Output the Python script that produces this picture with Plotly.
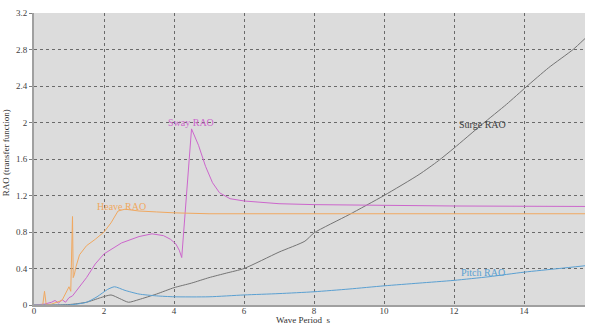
import plotly.graph_objects as go

# Wave period grid (s) and response amplitude operators for each motion
surge_period = [0, 0.5, 1.0, 1.5, 1.9, 2.2, 2.45, 2.7, 3.0, 3.5, 4.0, 4.5, 5.0, 5.5,
                6.0, 7.0, 7.74, 8.0, 9.0, 10.0, 11.0, 11.55, 12.0, 12.8, 13.5,
                14.06, 14.7, 15.4, 15.74]
surge_rao = [0, 0.0, 0.005, 0.03, 0.08, 0.11, 0.07, 0.03, 0.06, 0.12, 0.19, 0.24,
             0.30, 0.35, 0.40, 0.58, 0.70, 0.79, 0.99, 1.2, 1.43, 1.58, 1.72, 1.98,
             2.2, 2.39, 2.6, 2.8, 2.92]

sway_period = [0, 0.3, 0.5, 0.6, 0.7, 0.8, 0.9, 1.0, 1.1, 1.2, 1.3, 1.5, 1.75,
               2.0, 2.5, 3.0, 3.37, 3.7, 3.9, 4.05, 4.15, 4.22, 4.5, 4.7, 4.9,
               5.1, 5.3, 5.6, 6.0, 7.0, 8.0, 10.0, 12.0, 15.74]
sway_rao = [0, 0.01, 0.03, 0.05, 0.02, 0.06, 0.03, 0.08, 0.10, 0.15, 0.20, 0.30,
            0.45, 0.56, 0.68, 0.75, 0.78, 0.76, 0.72, 0.67, 0.60, 0.52, 1.93,
            1.75, 1.52, 1.34, 1.23, 1.165, 1.14, 1.11, 1.10, 1.09, 1.085, 1.08]

heave_period = [0, 0.25, 0.3, 0.35, 0.5, 0.8, 1.0, 1.05, 1.1, 1.12, 1.15, 1.2,
                1.3, 1.5, 1.75, 2.0, 2.2, 2.4, 2.6, 3.0, 3.5, 4.0, 5.0, 15.74]
heave_rao = [0, 0, 0.15, 0, 0.01, 0.05, 0.20, 0.15, 0.97, 0.30, 0.33, 0.42,
             0.55, 0.65, 0.72, 0.80, 0.90, 1.03, 1.05, 1.03, 1.02, 1.01, 1.0, 1.0]

pitch_period = [0, 1.0, 1.5, 1.8, 2.1, 2.3, 2.6, 3.0, 3.5, 4.0, 5.0, 6.0, 7.0,
                8.0, 9.0, 10.0, 11.0, 12.0, 13.0, 14.0, 15.0, 15.74]
pitch_rao = [0, 0.0, 0.03, 0.09, 0.17, 0.20, 0.16, 0.12, 0.10, 0.09, 0.09, 0.11,
             0.125, 0.145, 0.175, 0.21, 0.24, 0.27, 0.31, 0.36, 0.40, 0.43]

x_ticks = [0, 2, 4, 6, 8, 10, 12, 14]
y_ticks = [0, 0.4, 0.8, 1.2, 1.6, 2, 2.4, 2.8, 3.2]
y_tick_text = ["0", "0.4", "0.8", "1.2", "1.6", "2", "2.4", "2.8", "3.2"]

# name, x, y, colour, label position, smooth the curve?
series = [
    ("Surge RAO", surge_period, surge_rao, "#747474", 12.8, 1.98, True),
    ("Sway RAO", sway_period, sway_rao, "#cc66cc", 4.49, 2.0, False),
    ("Heave RAO", heave_period, heave_rao, "#f0a860", 2.5, 1.08, False),
    ("Pitch RAO", pitch_period, pitch_rao, "#5aa0d2", 12.83, 0.36, True),
]

SERIF = "Liberation Serif, Times New Roman, serif"

fig = go.Figure()
for name, xs, ys, color, lx, ly, smooth in series:
    line = dict(color=color, width=1)
    if smooth:
        line.update(shape="spline", smoothing=0.6)
    fig.add_trace(go.Scatter(x=xs, y=ys, mode="lines", name=name, line=line))
    fig.add_annotation(x=lx, y=ly, text=name, showarrow=False,
                       font=dict(family=SERIF, size=10,
                                 color="#404040" if name == "Surge RAO" else color),
                       xanchor="center", yanchor="middle")

axis_common = dict(
    showgrid=True, gridcolor="#6a6a6a", griddash="3px,3px", gridwidth=1,
    zeroline=False, showline=True, linecolor="#a0a0a0", linewidth=2,
    tickfont=dict(family=SERIF, size=9, color="#404040"),
)

fig.update_xaxes(range=[0, 15.74], tickvals=x_ticks, ticks="",
                 ticklabelstandoff=-4, **axis_common)
fig.update_yaxes(range=[0, 3.2], tickvals=y_ticks, ticktext=y_tick_text,
                 ticks="outside", ticklen=3, tickcolor="#808080", **axis_common)

fig.add_annotation(x=0.49, y=-0.028, xref="paper", yref="paper",
                   text="Wave Period  s", showarrow=False, yanchor="top",
                   font=dict(family=SERIF, size=9, color="#303030"))
fig.add_annotation(x=-0.038, y=0.52, xref="paper", yref="paper",
                   text="RAO (transfer function)", showarrow=False, textangle=-90,
                   xanchor="right",
                   font=dict(family=SERIF, size=9, color="#303030"))

fig.update_layout(
    width=589, height=327,
    margin=dict(l=34, r=4, t=13, b=22),
    paper_bgcolor="white", plot_bgcolor="#dcdcdc",
    showlegend=False,
)

fig.write_html("out.html")
